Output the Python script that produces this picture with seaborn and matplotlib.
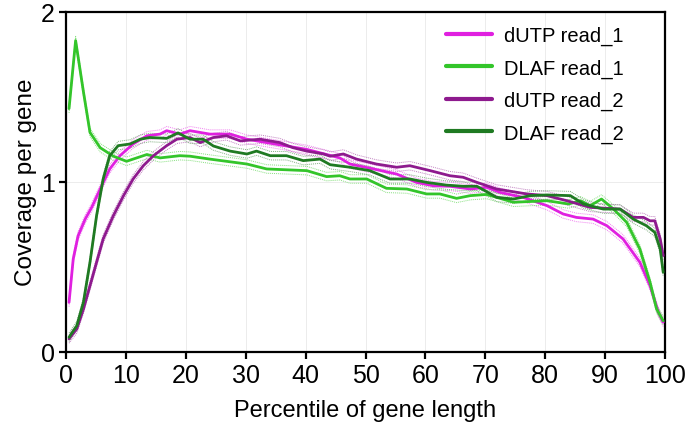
import matplotlib
matplotlib.use("Agg")
import matplotlib.pyplot as plt
import seaborn as sns
import pandas as pd
import numpy as np

# ---- data ----
dutp1_x = [0.5, 1.2, 2.0, 3.2, 4.3, 5.7, 7.3, 9.0, 11.2, 13.5, 15.7, 16.8, 19.0, 20.7, 24.0, 27.4,
           30.2, 33.5, 36.8, 40.2, 43.5, 45.7, 47.4, 51.3, 55.2, 58.5, 61.3, 64.1, 67.5, 70.2, 72.5,
           76.3, 80.3, 83.0, 85.2, 88.0, 90.3, 93.0, 95.8, 97.5, 98.9, 99.7]
dutp1_y = [0.29, 0.545, 0.68, 0.78, 0.85, 0.957, 1.075, 1.153, 1.222, 1.27, 1.28, 1.30, 1.28, 1.30,
           1.28, 1.28, 1.25, 1.23, 1.21, 1.19, 1.16, 1.14, 1.104, 1.075, 1.045, 0.996, 0.976, 0.973,
           0.957, 0.967, 0.937, 0.908, 0.859, 0.81, 0.79, 0.78, 0.741, 0.663, 0.526, 0.388, 0.232, 0.173]

dlaf1_x = [0.5, 1.6, 2.9, 4.0, 5.7, 7.9, 10.1, 13.5, 15.7, 19.0, 20.7, 24.0, 30.2, 33.5, 40.2, 43.5,
           45.7, 47.4, 50.2, 53.5, 56.9, 60.2, 62.4, 65.2, 67.5, 70.2, 74.7, 80.3, 83.9, 85.9, 87.5,
           89.4, 91.4, 93.6, 95.8, 97.5, 98.6, 99.7]
dlaf1_y = [1.43, 1.83, 1.53, 1.29, 1.20, 1.15, 1.12, 1.16, 1.14, 1.153, 1.15, 1.133, 1.104, 1.075,
           1.065, 1.03, 1.035, 1.016, 1.016, 0.961, 0.957, 0.928, 0.928, 0.902, 0.918, 0.925, 0.879,
           0.888, 0.869, 0.888, 0.859, 0.898, 0.839, 0.761, 0.604, 0.408, 0.251, 0.182]

dutp2_x = [0.5, 1.8, 2.9, 4.0, 5.1, 6.2, 7.9, 9.6, 11.2, 12.9, 14.6, 16.8, 18.5, 20.7, 22.4, 24.6,
           26.8, 29.1, 32.4, 35.7, 37.9, 40.2, 43.0, 44.1, 46.3, 48.5, 51.8, 55.2, 57.4, 60.8, 64.1,
           66.3, 68.6, 71.9, 73.6, 76.9, 80.3, 83.6, 87.5, 92.5, 94.7, 96.4, 97.5, 98.3, 99.2, 99.7]
dutp2_y = [0.075, 0.134, 0.25, 0.388, 0.526, 0.663, 0.80, 0.918, 1.016, 1.094, 1.153, 1.212, 1.25,
           1.26, 1.23, 1.26, 1.27, 1.24, 1.25, 1.23, 1.20, 1.18, 1.163, 1.15, 1.163, 1.133, 1.104,
           1.085, 1.094, 1.065, 1.035, 1.026, 0.996, 0.957, 0.947, 0.928, 0.918, 0.888, 0.849,
           0.839, 0.79, 0.79, 0.77, 0.77, 0.663, 0.565]

dlaf2_x = [0.5, 1.8, 2.9, 4.0, 5.1, 6.2, 7.3, 8.7, 10.7, 12.4, 14.0, 16.8, 18.7, 20.7, 22.9, 24.6,
           27.4, 30.2, 31.8, 34.1, 36.8, 39.6, 42.4, 44.1, 47.4, 50.7, 54.1, 57.4, 60.2, 63.5, 66.3,
           68.6, 70.8, 71.9, 74.7, 77.5, 80.3, 84.2, 86.4, 89.7, 92.5, 94.7, 96.9, 98.3, 99.2, 99.7]
dlaf2_y = [0.085, 0.153, 0.29, 0.526, 0.80, 1.016, 1.153, 1.212, 1.222, 1.25, 1.26, 1.255, 1.287,
           1.25, 1.25, 1.21, 1.18, 1.163, 1.18, 1.153, 1.153, 1.124, 1.133, 1.10, 1.085, 1.065,
           1.016, 1.016, 0.996, 0.98, 0.973, 0.973, 0.93, 0.908, 0.898, 0.918, 0.922, 0.918, 0.869,
           0.839, 0.839, 0.78, 0.741, 0.702, 0.604, 0.467]

series_names = ["dUTP read_1", "DLAF read_1", "dUTP read_2", "DLAF read_2"]
colors = {"dUTP read_1": "#e020e0", "DLAF read_1": "#33c52a",
          "dUTP read_2": "#8e1a8e", "DLAF read_2": "#1f7a22"}
band_colors = {"dUTP read_1": "#f080f0", "DLAF read_1": "#88e080",
               "dUTP read_2": "#c080c0", "DLAF read_2": "#80b080"}

xticks = [0, 10, 20, 30, 40, 50, 60, 70, 80, 90, 100]
yticks = [0, 1, 2]

frames = []
for name, xs, ys in zip(series_names, [dutp1_x, dlaf1_x, dutp2_x, dlaf2_x],
                        [dutp1_y, dlaf1_y, dutp2_y, dlaf2_y]):
    frames.append(pd.DataFrame({"x": xs, "y": ys, "series": name}))
df = pd.concat(frames, ignore_index=True)

sns.set_style("white")
plt.rcParams["font.family"] = ["Liberation Sans", "DejaVu Sans"]
plt.rcParams["text.color"] = "black"
plt.rcParams["axes.labelcolor"] = "black"
plt.rcParams["xtick.color"] = "black"
plt.rcParams["ytick.color"] = "black"

fig = plt.figure(figsize=(6.85, 4.31), dpi=100)
ax = fig.add_axes([0.0964, 0.1817, 0.8744, 0.7888])

# thin dotted envelopes
for name in series_names:
    sub = df[df.series == name]
    for off in (-0.025, 0.025):
        ax.plot(sub.x, sub.y + off, linestyle=(0, (1, 1)), lw=0.7,
                color=band_colors[name], zorder=1)

sns.lineplot(data=df, x="x", y="y", hue="series", hue_order=series_names,
             palette=colors, estimator=None, sort=True, lw=2.0, ax=ax, zorder=3)

ax.set_xlim(0, 100)
ax.set_ylim(0, 2)
ax.set_xticks(xticks)
ax.set_yticks(yticks)
ax.set_xticklabels([str(t) for t in xticks])
ax.set_yticklabels([str(t) for t in yticks])
ax.grid(True, color="#ececec", lw=0.7)
ax.set_axisbelow(True)
for s in ax.spines.values():
    s.set_visible(True)
    s.set_color("black")
    s.set_linewidth(1.6)
ax.tick_params(axis="both", direction="out", length=5, width=1.6, labelsize=18,
               bottom=True, left=True, colors="black", labelcolor="black", pad=3)
ax.set_xlabel("Percentile of gene length", fontsize=17, labelpad=9, color="black")
ax.set_ylabel("Coverage per gene", fontsize=17.5, labelpad=3, color="black")

leg = ax.legend(loc="upper right", frameon=False, fontsize=14.5, handlelength=2.3,
                handletextpad=0.6, labelspacing=0.66, borderaxespad=0.3,
                bbox_to_anchor=(0.955, 1.0))
for line in leg.get_lines():
    line.set_linewidth(3)
for t in leg.get_texts():
    t.set_color("black")

fig.savefig("out.png", dpi=100)
